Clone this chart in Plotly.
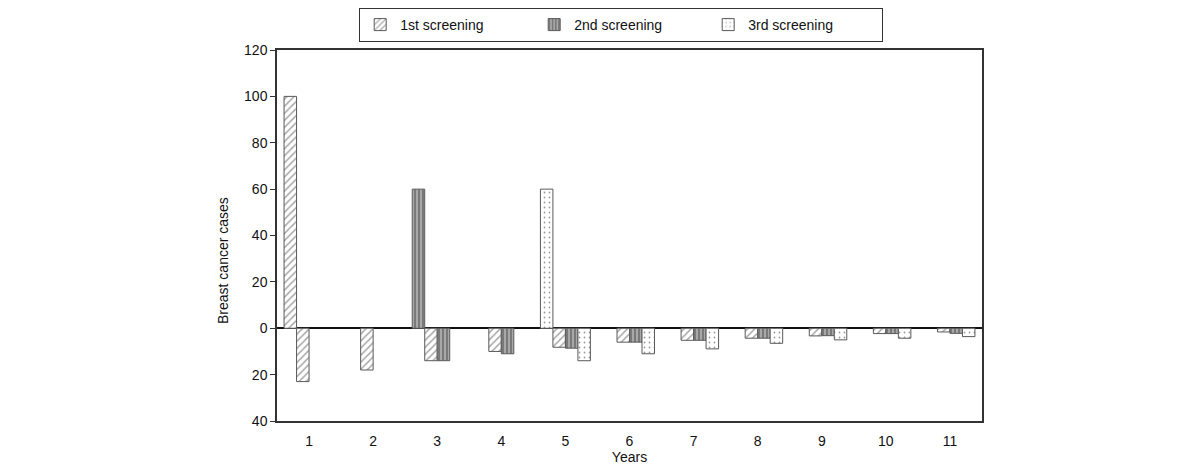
import plotly.graph_objects as go

years = list(range(1, 12))

# cases detected at the screening round (positive bars)
detected_1st = [100, None, None, None, None, None, None, None, None, None, None]
detected_2nd = [None, None, 60, None, None, None, None, None, None, None, None]
detected_3rd = [None, None, None, None, 60, None, None, None, None, None, None]

# interval cases after each screening (negative bars)
interval_1st = [-23, -18, -14, -10, -8.2, -6, -5.2, -4.3, -3.3, -2.3, -1.6]
interval_2nd = [None, None, -14, -11, -8.6, -6, -5.2, -4.3, -3.2, -2.3, -2.2]
interval_3rd = [None, None, None, None, -14, -11, -8.9, -6.5, -5, -4.3, -3.6]

y_tick_values = [-40, -20, 0, 20, 40, 60, 80, 100, 120]
y_tick_labels = ["40", "20", "0", "20", "40", "60", "80", "100", "120"]

names = ["1st screening", "2nd screening", "3rd screening"]

patterns = [
    dict(shape="/", fgcolor="#505050", bgcolor="white", size=5, solidity=0.3),
    dict(shape="|", fgcolor="#4a4a4a", bgcolor="#a8a8a8", size=4, solidity=0.5),
    dict(shape=".", fgcolor="#333333", bgcolor="white", size=5, solidity=0.1),
]
line_color = "#5a5a5a"

fig = go.Figure()

for i, vals in enumerate([detected_1st, detected_2nd, detected_3rd]):
    fig.add_trace(go.Bar(
        x=years, y=vals, name=names[i], offsetgroup="0", legendgroup=names[i],
        showlegend=False,
        marker=dict(color="white", pattern=patterns[i],
                    line=dict(color=line_color, width=1)),
    ))

for i, vals in enumerate([interval_1st, interval_2nd, interval_3rd]):
    fig.add_trace(go.Bar(
        x=years, y=vals, name=names[i], offsetgroup=str(i + 1), legendgroup=names[i],
        showlegend=True,
        marker=dict(color="white", pattern=patterns[i],
                    line=dict(color=line_color, width=1)),
    ))

font_family = "Liberation Sans, Arial, sans-serif"

fig.update_layout(
    width=1200, height=472,
    margin=dict(l=269, r=226, t=42, b=59, autoexpand=False),
    paper_bgcolor="white", plot_bgcolor="white",
    barmode="group", bargap=0.22, bargroupgap=0,
    font=dict(family=font_family, size=14, color="#111"),
    showlegend=True,
    legend=dict(
        orientation="h", x=0.511, xanchor="center", y=1.0, yanchor="top",
        xref="container", yref="container",
        entrywidth=129, entrywidthmode="pixels",
        bordercolor="#333", borderwidth=1, bgcolor="white",
        font=dict(size=14, family=font_family, color="#111"),
        traceorder="normal",
    ),
    xaxis=dict(
        tickmode="array", tickvals=years, ticktext=[str(y) for y in years],
        range=[0.5, 11.5], showgrid=False, zeroline=False, automargin=False,
        showline=True, linecolor="#333", linewidth=1.5, mirror=True,
        ticks="outside", ticklen=6, tickcolor="rgba(0,0,0,0)",
        title=dict(text="Years", standoff=2, font=dict(size=14)),
        tickfont=dict(size=14),
    ),
    yaxis=dict(
        range=[-40, 120], tickmode="array", tickvals=y_tick_values, ticktext=y_tick_labels,
        showgrid=False, zeroline=True, zerolinecolor="#111", zerolinewidth=1.5,
        showline=True, linecolor="#333", linewidth=1.5, mirror=True, automargin=False,
        ticks="outside", ticklen=5, tickcolor="#333", tickwidth=1,
        tickfont=dict(size=14),
    ),
    annotations=[dict(
        text="Breast cancer cases", textangle=-90, showarrow=False,
        xref="paper", yref="paper", x=-0.0766, y=0.434,
        xanchor="center", yanchor="middle", font=dict(size=14, color="#111"),
    )],
)

fig.write_html("out.html")
